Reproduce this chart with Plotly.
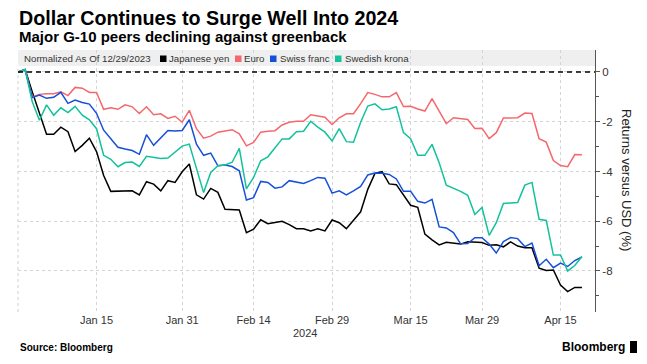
import pandas as pd
import plotly.graph_objects as go

# ---------------- data (returns vs USD, %, normalized as of 12/29/2023) ----------------
start_date = "2023-12-29"
n_points = 80
dates = pd.bdate_range(start_date, periods=n_points)

japanese_yen = [
    0, 0.1, -0.8, -1.65, -2.5, -2.5, -2.22, -2.4, -3.2, -2.95,
    -2.66, -3.2, -4.16, -4.8, -4.8, -4.78, -4.78, -4.94, -4.41, -4.51,
    -4.78, -4.37, -4.44, -4.01, -3.7, -4.94, -5.11, -4.68, -4.84, -5.52,
    -5.52, -5.55, -6.46, -6.32, -5.94, -6.1, -6.05, -6.0, -6.14, -6.3,
    -6.3, -6.39, -6.3, -6.39, -5.95, -6.06, -6.3, -5.97, -5.62, -4.72,
    -4.08, -4.01, -4.5, -4.53, -4.93, -5.36, -5.44, -6.52, -6.75, -6.95,
    -6.85, -6.87, -6.92, -6.83, -6.83, -6.86, -6.97, -6.95, -7.03, -6.83,
    -7.0, -7.07, -7.07, -7.89, -7.98, -7.96, -8.57, -8.83, -8.66, -8.66,
]
euro = [
    0, 0.08, -1.0, -0.9, -0.88, -0.87, -0.8, -0.95, -0.62, -0.65,
    -0.82, -0.82, -1.5, -1.44, -1.5, -1.32, -1.4, -1.67, -1.4, -1.72,
    -1.68, -1.87, -1.78, -2.02, -1.54, -2.28, -2.66, -2.58, -2.42, -2.38,
    -2.32, -2.49, -2.97, -2.83, -2.42, -2.38, -2.36, -2.13, -2.02, -1.98,
    -1.98, -1.72, -1.78, -1.82, -2.11, -1.84, -1.68, -1.68, -1.27, -0.83,
    -0.9, -1.0, -1.0, -0.83, -1.39, -1.38, -1.49, -1.57, -1.07, -1.6,
    -2.08, -1.84, -1.88, -1.91, -2.27, -2.26, -2.68, -2.44, -1.85, -1.84,
    -1.84, -1.65, -1.67, -2.68, -2.82, -3.56, -3.76, -3.81, -3.32, -3.33,
]
swiss_franc = [
    0, 0.08, -1.03, -0.93, -1.06, -1.02, -0.82, -1.26, -1.13, -1.23,
    -1.29, -1.66, -2.34, -2.67, -3.03, -3.1, -3.16, -3.31, -2.52, -2.95,
    -2.65, -2.35, -2.37, -2.35, -1.92, -2.9, -3.35, -3.26, -3.77, -3.74,
    -3.8, -3.97, -5.15, -5.05, -4.4, -4.44, -4.67, -4.62, -4.37, -4.41,
    -4.48, -4.37, -4.24, -4.27, -4.87, -4.78, -4.94, -4.78, -4.6, -4.14,
    -4.06, -4.07, -4.12, -4.3, -4.8, -4.8, -5.2, -5.27, -5.12, -6.23,
    -6.27, -6.46, -6.91, -6.9, -6.66, -6.66, -6.92, -7.28, -6.82, -6.66,
    -6.7, -7.02, -6.88, -7.79, -7.53, -7.87, -7.68, -7.82, -7.58, -7.44,
]
swedish_krona = [
    0, 0.1, -1.2, -1.94, -1.32, -1.74, -1.44, -1.63, -1.38, -1.74,
    -1.92, -2.28, -3.35, -3.51, -3.81, -3.64, -3.62, -3.8, -3.39, -3.45,
    -3.48, -3.46, -3.2, -2.98, -2.9, -3.84, -4.85, -4.04, -3.77, -3.74,
    -3.63, -3.07, -4.7, -4.24, -3.57, -3.41, -3.07, -2.69, -2.69, -2.4,
    -2.38, -1.98, -2.22, -2.42, -2.77, -2.28, -2.8, -2.82, -2.02, -1.37,
    -1.28, -1.52, -1.49, -1.4, -2.44, -2.68, -3.35, -3.35, -2.91, -3.65,
    -4.55, -4.67, -4.8, -4.96, -5.73, -5.45, -6.57, -6.06, -5.29, -5.27,
    -5.25, -4.55, -4.44, -5.92, -5.97, -7.36, -7.36, -8.0, -7.78, -7.42,
]

series_names = ["Japanese yen", "Euro", "Swiss franc", "Swedish krona"]
series_values = [japanese_yen, euro, swiss_franc, swedish_krona]
series_colors = ["#000000", "#f4686c", "#1650d8", "#12c29c"]

tick_dates = ["2024-01-15", "2024-01-31", "2024-02-14", "2024-02-29",
              "2024-03-15", "2024-03-29", "2024-04-15"]
tick_labels = ["Jan 15", "Jan 31", "Feb 14", "Feb 29", "Mar 15", "Mar 29", "Apr 15"]
y_ticks = [0, -2, -4, -6, -8]
y_tick_labels = ["0", "-2", "-4", "-6", "-8"]
y_minor_ticks = [-1, -3, -5, -7, -9]

title = "Dollar Continues to Surge Well Into 2024"
subtitle = "Major G-10 peers declining against greenback"
legend_note = "Normalized As Of 12/29/2023"
source = "Source: Bloomberg"

# ---------------- figure ----------------
W, H = 647, 364
ML, MR, MT, MB = 18, 52, 50, 52
PW, PH = W - ML - MR, H - MT - MB


def px(x):
    return (x - ML) / PW


def py(y):
    return (H - MB - y) / PH


x_idx = list(range(len(dates)))
tickvals = [dates.get_loc(pd.Timestamp(d)) for d in tick_dates]

FONT = "Liberation Sans, Arial, sans-serif"

fig = go.Figure()
for name, vals, col in zip(series_names, series_values, series_colors):
    fig.add_trace(go.Scatter(x=x_idx, y=vals, mode="lines", name=name,
                             line=dict(color=col, width=1.5), showlegend=False))

shapes = [
    # legend band
    dict(type="rect", xref="paper", yref="paper", x0=0, x1=1,
         y0=py(66), y1=1, fillcolor="#efefef", line=dict(width=0), layer="below"),
    # left border
    dict(type="line", xref="paper", yref="paper", x0=0, x1=0, y0=0, y1=py(66),
         line=dict(color="#d0d0d0", width=1, dash="dot"), layer="above"),
    # zero line
    dict(type="line", xref="paper", yref="y", x0=0, x1=1, y0=0, y1=0,
         line=dict(color="#000000", width=1.6, dash="5px,4px"), layer="above"),
]

annotations = [
    dict(text="<b>" + title + "</b>", x=px(17), y=py(18), xref="paper", yref="paper",
         xanchor="left", yanchor="middle", showarrow=False,
         font=dict(family=FONT, size=19.7, color="#000000")),
    dict(text="<b>" + subtitle + "</b>", x=px(17), y=py(36.5), xref="paper", yref="paper",
         xanchor="left", yanchor="middle", showarrow=False,
         font=dict(family=FONT, size=15, color="#000000")),
    dict(text=legend_note, x=px(22), y=py(58.5), xref="paper", yref="paper",
         xanchor="left", yanchor="middle", showarrow=False,
         font=dict(family=FONT, size=9.7, color="#333333")),
    dict(text="2024", x=px(305), y=py(333), xref="paper", yref="paper",
         xanchor="center", yanchor="middle", showarrow=False,
         font=dict(family=FONT, size=11, color="#333333")),
    dict(text="<b>" + source + "</b>", x=px(18), y=py(347), xref="paper", yref="paper",
         xanchor="left", yanchor="middle", showarrow=False,
         font=dict(family=FONT, size=10, color="#000000")),
    dict(text="<b>Bloomberg</b>", x=px(627), y=py(347), xref="paper", yref="paper",
         xanchor="right", yanchor="middle", showarrow=False,
         font=dict(family=FONT, size=12, color="#000000")),
    dict(text="Returns versus USD (%)", x=px(627), y=py(180), xref="paper", yref="paper",
         xanchor="center", yanchor="middle", showarrow=False, textangle=90,
         font=dict(family=FONT, size=13, color="#222222")),
]

# legend items
legend_sq_x = [160, 235, 270, 335]
legend_txt_x = [167, 242, 278, 343]
for name, col, sx, tx in zip(series_names, series_colors, legend_sq_x, legend_txt_x):
    shapes.append(dict(type="rect", xref="paper", yref="paper",
                       x0=px(sx), x1=px(sx + 6.5), y0=py(62), y1=py(55.5),
                       fillcolor=col, line=dict(width=0), layer="above"))
    annotations.append(dict(text=name, x=px(tx), y=py(58.5), xref="paper", yref="paper",
                            xanchor="left", yanchor="middle", showarrow=False,
                            font=dict(family=FONT, size=9.7, color="#333333")))

# Bloomberg icon
shapes.append(dict(type="rect", xref="paper", yref="paper",
                   x0=px(630), x1=px(637), y0=py(353), y1=py(341),
                   fillcolor="#000000", line=dict(width=0), layer="above"))

fig.update_layout(
    width=W, height=H,
    margin=dict(l=ML, r=MR, t=MT, b=MB, autoexpand=False),
    paper_bgcolor="#ffffff", plot_bgcolor="rgba(0,0,0,0)",
    font=dict(family=FONT, size=11, color="#333333"),
    shapes=shapes, annotations=annotations,
    showlegend=False,
    xaxis=dict(range=[0, 80.83], tickmode="array", tickvals=tickvals, ticktext=tick_labels,
               showgrid=True, gridcolor="#d4d4d4", griddash="dot", gridwidth=1,
               ticks="", showline=False, zeroline=False,
               tickfont=dict(family=FONT, size=11, color="#333333")),
    yaxis=dict(side="right", range=[-9.65, 0.884], tickmode="array",
               tickvals=y_ticks, ticktext=y_tick_labels,
               showgrid=True, gridcolor="#d4d4d4", griddash="dot", gridwidth=1,
               showline=True, linecolor="#555555", linewidth=1,
               ticks="outside", ticklen=4, tickcolor="#555555",
               minor=dict(tickvals=y_minor_ticks, ticks="outside", ticklen=3,
                          tickcolor="#555555", showgrid=False),
               zeroline=False,
               tickfont=dict(family=FONT, size=11.5, color="#333333")),
)

fig.write_html("out.html", config={"displayModeBar": False},
               post_script="document.body.style.margin='0px';document.body.style.padding='0px';")
